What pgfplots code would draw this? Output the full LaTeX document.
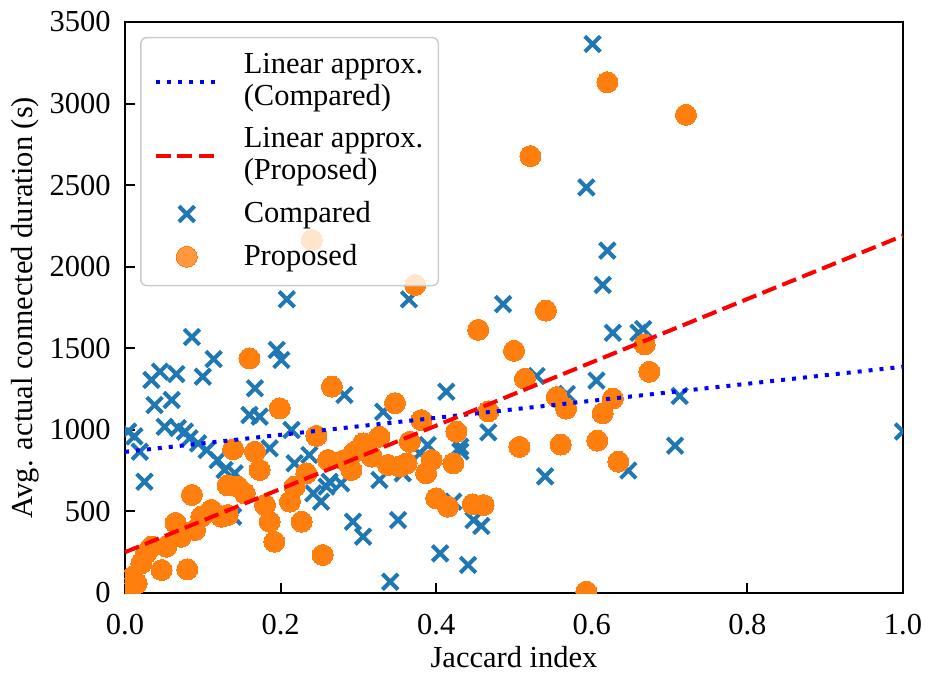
\documentclass[border=0pt]{standalone}
\usepackage{pgfplots}
\pgfplotsset{compat=1.18}
\usepackage{fontspec}
\setmainfont{Liberation Serif}
\definecolor{tabblue}{HTML}{1F77B4}
\definecolor{taborange}{HTML}{FF7F0E}
\pgfplotsset{midmark legend/.style={legend image code/.code={\draw[mark repeat=2,mark phase=2,##1] plot coordinates {(0pt,0pt)(31pt,0pt)(62pt,0pt)};}}}

\pgfplotstableread{
x y
0.601 3365
0.593 2486
0.620 2099
0.614 1888
0.486 1771
0.627 1595
0.660 1595
0.666 1618
0.606 1302
0.568 1220
0.529 1330
0.713 1208
0.467 985
0.431 868
0.707 903
0.540 715
0.647 751
0.458 411
0.448 447
0.441 172
1.000 990
0.208 1800
0.365 1800
0.413 1234
0.405 243
0.341 69
0.351 447
0.293 437
0.306 345
0.422 560
0.282 1214
0.332 1111
0.389 907
0.379 856
0.327 693
0.357 734
0.278 672
0.195 1490
0.201 1428
0.167 1255
0.160 1091
0.173 1081
0.214 999
0.186 887
0.218 795
0.237 846
0.263 682
0.252 560
0.242 611
0.141 734
0.139 468
0.086 1569
0.114 1434
0.034 1306
0.045 1357
0.066 1342
0.100 1326
0.038 1152
0.060 1183
0.051 1019
0.068 1011
0.004 989
0.012 960
0.019 866
0.077 989
0.083 948
0.094 917
0.105 876
0.119 815
0.128 754
0.025 682
0.259 652
0.431 897
}\compared

\pgfplotstableread{
x y
0.620 3131
0.721 2931
0.521 2678
0.240 2164
0.373 1888
0.454 1613
0.541 1731
0.500 1485
0.514 1313
0.668 1524
0.674 1356
0.555 1201
0.567 1130
0.467 1114
0.426 989
0.627 1192
0.614 1102
0.507 896
0.560 910
0.607 934
0.634 805
0.422 795
0.447 544
0.461 539
0.593 8
0.415 529
0.400 580
0.347 1163
0.381 1060
0.366 927
0.327 958
0.306 917
0.295 866
0.282 815
0.291 754
0.317 836
0.338 785
0.353 775
0.362 795
0.394 815
0.387 734
0.266 1265
0.199 1132
0.160 1438
0.246 963
0.167 866
0.173 754
0.139 881
0.132 660
0.145 652
0.154 611
0.233 734
0.261 815
0.218 652
0.212 560
0.180 539
0.186 437
0.227 437
0.192 314
0.254 233
0.132 478
0.086 601
0.065 430
0.098 468
0.111 509
0.124 468
0.090 386
0.072 345
0.053 284
0.034 284
0.027 243
0.021 182
0.047 141
0.080 145
0.010 100
0.007 39
0.015 60
}\proposed

\begin{document}
\fontsize{30.5}{32}\selectfont
\begin{tikzpicture}
\begin{axis}[
  scale only axis, width=778pt, height=571pt,
  xmin=0, xmax=1, ymin=0, ymax=3500,
  xtick={0,0.2,0.4,0.6,0.8,1}, xticklabels={0.0,0.2,0.4,0.6,0.8,1.0},
  ytick={0,500,1000,1500,2000,2500,3000,3500},
  /pgf/number format/assume math mode=true,
  /pgf/number format/1000 sep={},
  tick pos=left, tick align=inside,
  major tick length=10pt,
  tick style={black, line width=2pt},
  axis line style={line width=2pt},
  yticklabel style={xshift=-4pt},
  xticklabel style={yshift=-11pt},
  xlabel={Jaccard index}, ylabel={Avg. actual connected duration (s)},
  xlabel style={at={(axis description cs:0.5,-0.131)}, anchor=base},
  ylabel style={at={(axis description cs:-0.1285,0.5)}, anchor=center},
  clip marker paths=true,
  legend cell align=left,
  legend style={at={(0.0193,0.974)}, anchor=north west,
    draw=black!20, line width=1.5pt, rounded corners=6pt,
    fill=white, fill opacity=0.8, text opacity=1,
    inner xsep=13pt, inner ysep=14pt, row sep=13pt, column sep=22pt,
    cells={inner xsep=3pt, inner ysep=3pt, align=left}},
]
\addlegendimage{legend image code/.code={\draw[blue, line width=4pt, dash pattern=on 4pt off 7pt] (0pt,0pt) -- (62pt,0pt);}}
\addlegendentry{Linear approx.\\(Compared)}
\addlegendimage{legend image code/.code={\draw[red, line width=4pt, dash pattern=on 15pt off 6.5pt] (0pt,0pt) -- (62pt,0pt);}}
\addlegendentry{Linear approx.\\(Proposed)}

\addplot[only marks, mark=x, mark size=11pt, mark options={draw=tabblue, line width=4pt}, midmark legend]
  table[x=x,y=y] {\compared};
\addlegendentry{Compared}
\addplot[only marks, mark=*, mark size=10.5pt, mark options={draw=taborange, fill=taborange, line width=0pt}, midmark legend]
  table[x=x,y=y] {\proposed};
\addlegendentry{Proposed}

\addplot[forget plot, blue, line width=4pt, dash pattern=on 4pt off 7pt] coordinates {(0,865) (1,1387)};
\addplot[forget plot, red, line width=4pt, dash pattern=on 15pt off 6.5pt] coordinates {(0,250) (1,2190)};
\end{axis}
\pgfresetboundingbox
\path ([shift={(-125pt,-82pt)}]current axis.south west) rectangle ([shift={(25pt,22pt)}]current axis.north east);
\end{tikzpicture}
\end{document}
